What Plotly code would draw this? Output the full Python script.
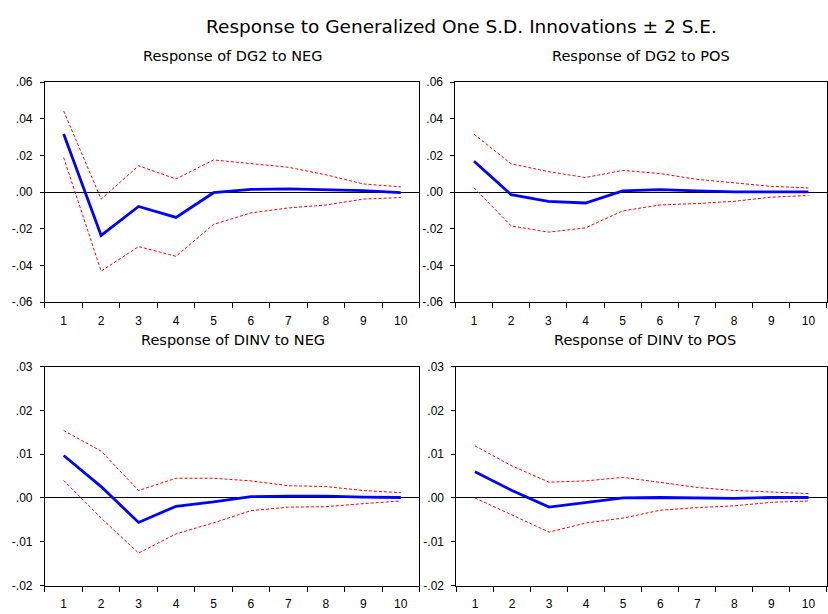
import plotly.graph_objects as go

periods = [1, 2, 3, 4, 5, 6, 7, 8, 9, 10]

# Response of DG2 to NEG
dg2_neg = [0.0318, -0.0236, -0.0078, -0.0138, -0.0003, 0.0015, 0.0018, 0.0015, 0.0008, -0.0003]
dg2_neg_up = [0.0443, -0.0038, 0.0144, 0.0072, 0.0176, 0.0158, 0.0136, 0.0095, 0.0045, 0.0029]
dg2_neg_lo = [0.0189, -0.0431, -0.0297, -0.0350, -0.0176, -0.0113, -0.0086, -0.0070, -0.0038, -0.0029]

# Response of DG2 to POS
dg2_pos = [0.0169, -0.0014, -0.0050, -0.0059, 0.0007, 0.0014, 0.0007, 0.0002, 0.0002, 0.0002]
dg2_pos_up = [0.0316, 0.0155, 0.0112, 0.0080, 0.0119, 0.0102, 0.0070, 0.0052, 0.0032, 0.0023]
dg2_pos_lo = [0.0024, -0.0184, -0.0218, -0.0195, -0.0102, -0.0070, -0.0062, -0.0050, -0.0027, -0.0018]

# Response of DINV to NEG
dinv_neg = [0.0097, 0.0026, -0.0056, -0.0019, -0.0009, 0.0003, 0.0004, 0.0004, 0.0002, 0.0001]
dinv_neg_up = [0.0154, 0.0107, 0.0017, 0.0045, 0.0045, 0.0039, 0.0028, 0.0026, 0.0017, 0.0012]
dinv_neg_lo = [0.0040, -0.0046, -0.0126, -0.0082, -0.0057, -0.0029, -0.0021, -0.0020, -0.0013, -0.0007]

# Response of DINV to POS
dinv_pos = [0.0060, 0.0017, -0.0021, -0.0010, 0.0000, 0.0001, 0.0000, -0.0001, 0.0001, 0.0001]
dinv_pos_up = [0.0119, 0.0073, 0.0036, 0.0039, 0.0047, 0.0036, 0.0024, 0.0017, 0.0013, 0.0010]
dinv_pos_lo = [0.0000, -0.0039, -0.0078, -0.0057, -0.0046, -0.0028, -0.0022, -0.0018, -0.0010, -0.0007]

panel_titles = ["Response of DG2 to NEG", "Response of DG2 to POS",
                "Response of DINV to NEG", "Response of DINV to POS"]
main_title = "Response to Generalized One S.D. Innovations \u00b1 2 S.E."

ytick_top_vals = [-0.06, -0.04, -0.02, 0.0, 0.02, 0.04, 0.06]
ytick_top_text = ["-.06", "-.04", "-.02", ".00", ".02", ".04", ".06"]
ytick_bot_vals = [-0.02, -0.01, 0.0, 0.01, 0.02, 0.03]
ytick_bot_text = ["-.02", "-.01", ".00", ".01", ".02", ".03"]

W, H = 828, 614
FONT = "Liberation Sans, Arial, sans-serif"
TFONT = "DejaVu Sans, sans-serif"

# panel boxes in pixels (left, right, top, bottom)
boxes = [(45, 420, 77, 302), (456, 828, 77, 302),
         (45, 420, 368, 592), (457, 828, 368, 592)]
title_x = [233, 642, 233, 646]

panels = [
    (dg2_neg, dg2_neg_up, dg2_neg_lo, ytick_top_vals, ytick_top_text, [-0.06, 0.06]),
    (dg2_pos, dg2_pos_up, dg2_pos_lo, ytick_top_vals, ytick_top_text, [-0.06, 0.06]),
    (dinv_neg, dinv_neg_up, dinv_neg_lo, ytick_bot_vals, ytick_bot_text, [-0.02, 0.03]),
    (dinv_pos, dinv_pos_up, dinv_pos_lo, ytick_bot_vals, ytick_bot_text, [-0.02, 0.03]),
]

fig = go.Figure()
annotations = []
boundaries = [p - 0.5 for p in periods] + [periods[-1] + 0.5]

for i, ((mid, up, lo, yv, yt, yr), (l, r, t, b)) in enumerate(zip(panels, boxes)):
    n = i + 1
    xa = "x" if n == 1 else f"x{n}"
    ya = "y" if n == 1 else f"y{n}"
    for series in (up, lo):
        fig.add_trace(go.Scatter(x=periods, y=series, mode="lines", xaxis=xa, yaxis=ya,
                                 line=dict(color="#ff0000", width=1, dash="3px,2px"),
                                 showlegend=False, hoverinfo="skip"))
    fig.add_trace(go.Scatter(x=periods, y=mid, mode="lines", xaxis=xa, yaxis=ya,
                             line=dict(color="#0000ff", width=2.8),
                             showlegend=False))
    xkey = "xaxis" if n == 1 else f"xaxis{n}"
    ykey = "yaxis" if n == 1 else f"yaxis{n}"
    fig.layout[xkey] = dict(
        domain=[l / W, r / W], anchor=ya, range=[0.5, 10.5],
        tickvals=periods, ticktext=[str(p) for p in periods], ticks="", ticklen=0,
        minor=dict(tickvals=boundaries, ticks="outside", ticklen=5, tickcolor="black", tickwidth=1),
        showline=True, linecolor="black", linewidth=1, mirror=True,
        showgrid=False, zeroline=False, fixedrange=True, ticklabelstandoff=7,
        tickfont=dict(family=FONT, size=12, color="black"),
    )
    fig.layout[ykey] = dict(
        domain=[1 - b / H, 1 - t / H], anchor=xa, range=yr,
        tickvals=yv, ticktext=yt, ticks="outside", ticklen=4, tickcolor="black",
        showline=True, linecolor="black", linewidth=1, mirror=True,
        showgrid=False, zeroline=True, zerolinecolor="black", zerolinewidth=1,
        ticklabelstandoff=5, fixedrange=True,
        tickfont=dict(family=FONT, size=12, color="black"),
    )
    annotations.append(dict(text=panel_titles[i], x=title_x[i] / W, y=1 - (t - 27) / H,
                            xref="paper", yref="paper", showarrow=False,
                            xanchor="center", yanchor="middle",
                            font=dict(family=TFONT, size=14.5, color="black")))

annotations.append(dict(text=main_title, x=462 / W, y=1 - 20 / H, xref="paper", yref="paper",
                        showarrow=False, xanchor="center", yanchor="middle",
                        font=dict(family=TFONT, size=18.5, color="black")))

fig.update_layout(width=W, height=H, margin=dict(l=0, r=0, t=0, b=0),
                  paper_bgcolor="white", plot_bgcolor="white",
                  annotations=annotations, showlegend=False)

fig.write_html("out.html", config={"displayModeBar": False},
               post_script="document.body.style.margin='0';document.body.style.overflow='hidden';")
